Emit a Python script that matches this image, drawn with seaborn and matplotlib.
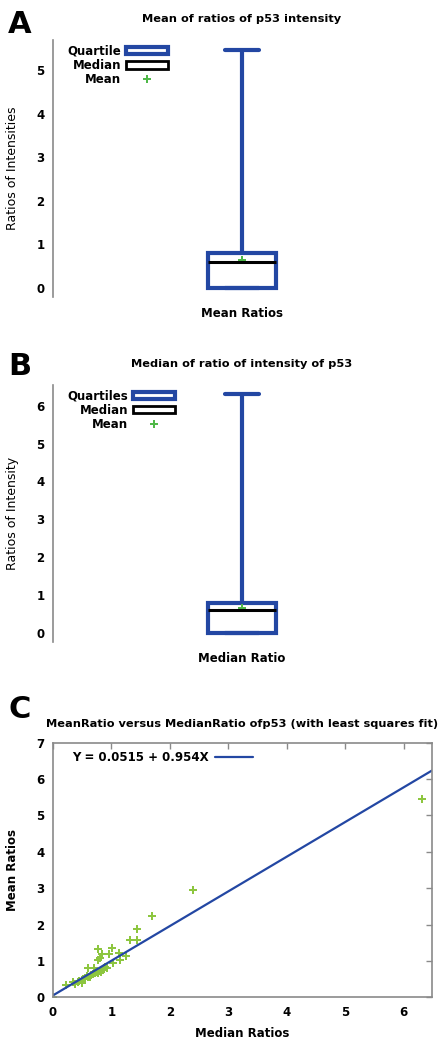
import numpy as np
import pandas as pd
import matplotlib
matplotlib.use('Agg')
import matplotlib.pyplot as plt
import seaborn as sns
from matplotlib.patches import Patch
from matplotlib.lines import Line2D

# Panel A: five-number summary of mean ratios (min, Q1, median, Q3, max) and mean
mean_summary = [0.0, 0.0, 0.59, 0.80, 5.48]
mean_of_mean = 0.64
# Panel B: five-number summary of median ratios and mean
median_summary = [0.0, 0.0, 0.61, 0.79, 6.30]
mean_of_median = 0.66

# Panel C: per-sample ratios
median_ratio = [0.0, 0.23, 0.35, 0.38, 0.43, 0.45, 0.49, 0.49, 0.52, 0.55, 0.58, 0.60,
                0.63, 0.66, 0.68, 0.72, 0.75, 0.77, 0.80, 0.82, 0.85, 0.86, 0.88, 0.89,
                0.92, 0.60, 0.70, 1.02, 1.15, 1.25, 0.78, 0.81, 0.84, 0.96, 1.13, 0.78,
                1.01, 1.32, 1.44, 1.43, 1.70, 2.39, 6.31]
mean_ratio = [0.0, 0.33, 0.42, 0.38, 0.43, 0.46, 0.49, 0.40, 0.50, 0.54, 0.58, 0.56,
              0.57, 0.61, 0.63, 0.66, 0.70, 0.67, 0.72, 0.69, 0.75, 0.77, 0.80, 0.84,
              0.82, 0.80, 0.80, 0.94, 1.02, 1.15, 1.04, 1.08, 1.20, 1.18, 1.22, 1.34,
              1.36, 1.58, 1.58, 1.87, 2.23, 2.94, 5.46]
fit_intercept = 0.0515
fit_slope = 0.954

blue = '#2347a3'
green = '#4fb848'
light_green = '#8dc63f'
grey = '#8a8a8a'

sns.set_style('white')
plt.rcParams['font.family'] = ['DejaVu Sans']
plt.rcParams['font.size'] = 8.5
plt.rcParams['font.weight'] = 'bold'
plt.rcParams['axes.labelweight'] = 'bold'
plt.rcParams['axes.titleweight'] = 'bold'
plt.rcParams['text.color'] = 'black'
plt.rcParams['axes.labelcolor'] = 'black'
plt.rcParams['xtick.labelcolor'] = 'black'
plt.rcParams['ytick.labelcolor'] = 'black'

fig = plt.figure(figsize=(4.48, 10.44), dpi=100)


def box_panel(rect, summary, mean_val, title, ylabel, xlabel, ymax, qlabel):
    ax = fig.add_axes(rect)
    sns.boxplot(y=summary, whis=(0, 100), width=0.18, color='white', linecolor=blue,
                linewidth=3, medianprops=dict(color='black', linewidth=2.2), ax=ax)
    ax.plot([0], [mean_val], marker='P', ms=6, color=green, mew=0, ls='')
    ax.set_xlim(-0.5, 0.5)
    ax.set_ylim(-0.21 * ymax / 5.7, ymax)
    ax.set_xticks([])
    ax.set_yticks(range(int(ymax) + 1))
    for s in ['top', 'right', 'bottom']:
        ax.spines[s].set_visible(False)
    ax.spines['left'].set_color(grey)
    ax.spines['left'].set_linewidth(1.2)
    ax.tick_params(axis='y', direction='in', length=4, color=grey, width=1, pad=6)
    ax.set_title(title, fontsize=8.2, pad=13)
    ax.set_ylabel(ylabel, fontweight='normal', fontsize=9)
    ax.yaxis.set_label_coords(-0.09, 0.5)
    ax.set_xlabel(xlabel, fontsize=8.5, labelpad=7)
    handles = [Patch(facecolor='white', edgecolor=blue, lw=3),
               Patch(facecolor='white', edgecolor='black', lw=2),
               Line2D([], [], marker='P', ls='', color=green, mew=0, ms=6)]
    ax.legend(handles, [qlabel, 'Median', 'Mean'], loc='upper left',
              bbox_to_anchor=(0.02, 1.01), frameon=False, markerfirst=False,
              handlelength=3.6, handleheight=0.6, labelspacing=0.12, fontsize=8.5,
              handletextpad=0.4, borderaxespad=0.2)
    return ax


box_panel([0.118, 0.7155, 0.844, 0.2462], mean_summary, mean_of_mean,
          'Mean of ratios of p53 intensity', 'Ratios of Intensities', 'Mean Ratios',
          5.7, 'Quartile')
box_panel([0.118, 0.3851, 0.844, 0.2462], median_summary, mean_of_median,
          'Median of ratio of intensity of p53', 'Ratios of Intensity', 'Median Ratio',
          6.55, 'Quartiles')

# Panel C
axc = fig.add_axes([0.118, 0.0447, 0.846, 0.2439])
df = pd.DataFrame({'median': median_ratio, 'mean': mean_ratio})
sns.scatterplot(data=df, x='median', y='mean', marker='P', s=40, color=light_green,
                linewidth=0, ax=axc)
axc.axline((0, fit_intercept), slope=fit_slope, color=blue, lw=1.6,
           label='Y = %.4f + %.3fX' % (fit_intercept, fit_slope))
axc.set_xlim(0, 6.48)
axc.set_ylim(0, 7)
axc.set_xticks(range(7))
axc.set_yticks(range(8))
for s in axc.spines.values():
    s.set_color(grey)
    s.set_linewidth(1.2)
axc.tick_params(direction='in', length=4, color=grey, width=1, top=True, right=True, pad=6)
axc.set_title('MeanRatio versus MedianRatio ofp53 (with least squares fit)', fontsize=8.2, pad=11)
axc.set_xlabel('Median Ratios', fontsize=8.5, labelpad=6)
axc.set_ylabel('Mean Ratios', fontsize=8.5)
axc.yaxis.set_label_coords(-0.09, 0.5)
axc.legend(loc='upper left', bbox_to_anchor=(0.03, 1.0), frameon=False, markerfirst=False,
           handlelength=3.2, fontsize=8.5, handletextpad=0.5, borderaxespad=0.3)

for letter, y in [('A', 33), ('B', 375), ('C', 718)]:
    fig.text(8 / 448, 1 - y / 1044, letter, fontsize=22, fontweight='bold', va='baseline')

fig.savefig('out.png', dpi=100)
